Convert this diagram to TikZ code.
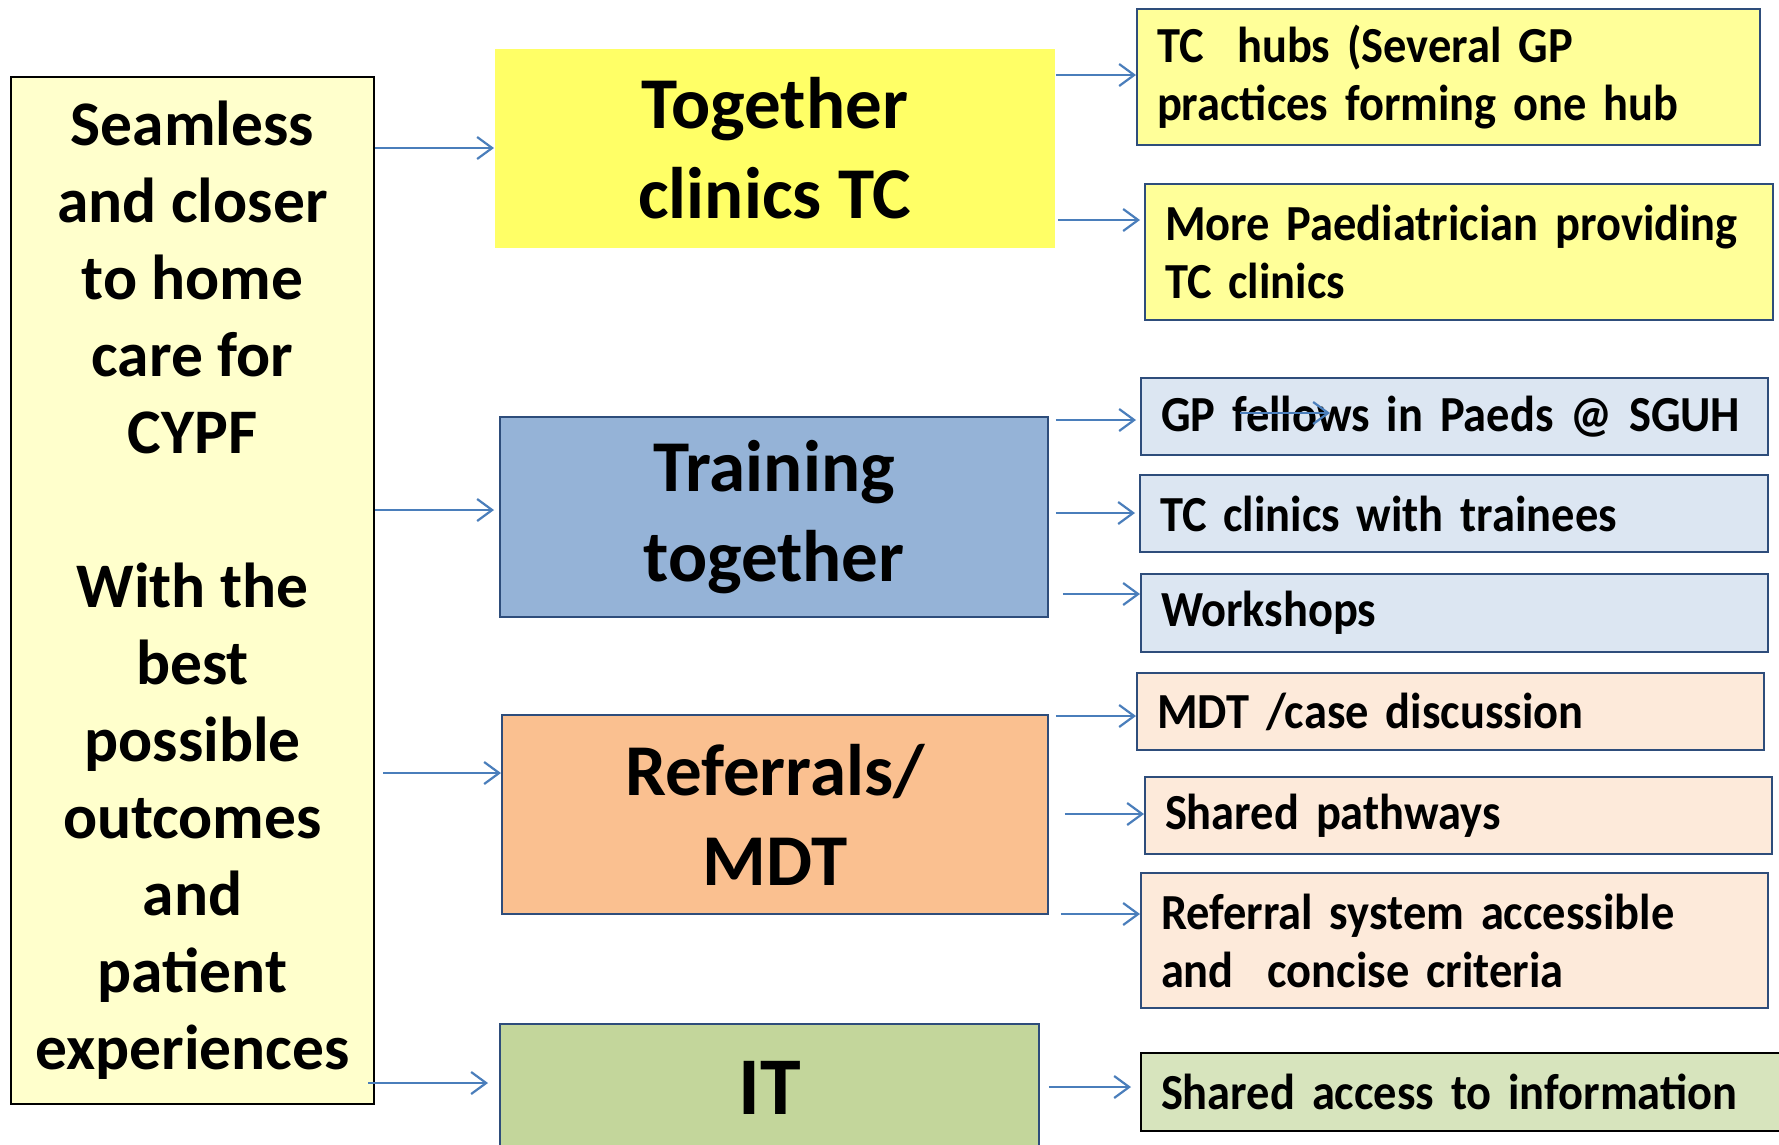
\documentclass[tikz,border=0pt]{standalone}
\usepackage{fontspec}
\setmainfont{Carlito}
\newfontfamily\rfont{Carlito}[FakeStretch=0.92, WordSpace=0.6]
\usetikzlibrary{arrows.meta}
\definecolor{arrowblue}{HTML}{4A7EBB}
\definecolor{navyline}{HTML}{2E4D7B}
\definecolor{leftfill}{HTML}{FFFFCC}
\definecolor{togfill}{HTML}{FFFF66}
\definecolor{tcright}{HTML}{FFFF99}
\definecolor{trnfill}{HTML}{95B3D7}
\definecolor{trnright}{HTML}{DCE6F2}
\definecolor{reffill}{HTML}{FAC090}
\definecolor{refright}{HTML}{FDEADA}
\definecolor{itfill}{HTML}{C3D69B}
\definecolor{itright}{HTML}{D7E4BD}
\tikzset{
  arr/.style={draw=arrowblue, line width=2.2pt, -{Straight Barb[length=15pt,width=22pt,line width=2.2pt]}},
  leftbox/.style={draw=black, line width=2pt, fill=leftfill, inner sep=0pt, align=center, anchor=north west,
    font=\bfseries\fontsize{63.5}{77}\selectfont},
  midbox/.style={draw=navyline, line width=1.8pt, inner sep=0pt, align=center, anchor=north west,
    font=\bfseries\fontsize{73}{90}\selectfont},
  rbox/.style={draw=navyline, line width=2pt, inner xsep=20pt, inner ysep=0pt, align=left, anchor=north west,
    font=\rfont\bfseries\fontsize{50.5}{58}\selectfont}
}
\begin{document}
\begin{tikzpicture}[x=1pt,y=-1pt]
\clip (0,0) rectangle (1779,1144);
\fill[white] (0,0) rectangle (1779,1144);

% left box
\node[leftbox, minimum width=363pt, minimum height=1027pt] (lft) at (10,76)
  {Seamless\\and closer\\to home\\care for\\CYPF\\[77pt]With the\\best\\possible\\outcomes\\and\\patient\\experiences};

% middle boxes
\node[midbox, draw=none, fill=togfill, minimum width=560pt, minimum height=199pt] (tog) at (494,48)
  {Together\\clinics TC};
\node[midbox, fill=trnfill, minimum width=548pt, minimum height=200pt] (trn) at (499,416)
  {Training\\together};
\node[midbox, fill=reffill, minimum width=546pt, minimum height=199pt] (ref) at (501,714)
  {Referrals/\\MDT};
\node[midbox, fill=itfill, minimum width=539pt, minimum height=127pt,
  font=\bfseries\fontsize{82}{90}\selectfont] (it) at (499,1023) {IT};

% right boxes
\node[rbox, fill=tcright, minimum width=623pt, minimum height=136pt, text width=583pt] (hubs) at (1136,8)
  {\mbox{TC~ hubs (Several GP}\\\mbox{practices forming one hub}};
\node[rbox, fill=tcright, minimum width=628pt, minimum height=136pt, text width=588pt] (paed) at (1144,183)
  {\mbox{More Paediatrician providing}\\\mbox{TC clinics}};
\node[rbox, fill=trnright, minimum width=627pt, minimum height=77pt, text width=587pt] (gp) at (1140,377)
  {\mbox{GP fellows in Paeds @ SGUH}};
\node[rbox, fill=trnright, minimum width=628pt, minimum height=77pt, text width=588pt] (tccl) at (1139,474)
  {\mbox{TC clinics with trainees}};
\node[rbox, fill=trnright, minimum width=627pt, minimum height=78pt, text width=587pt] (work) at (1140,573)
  {\mbox{Workshops}};
\node[rbox, fill=refright, minimum width=627pt, minimum height=77pt, text width=587pt] (mdt) at (1136,672)
  {\mbox{MDT /case discussion}};
\node[rbox, fill=refright, minimum width=627pt, minimum height=77pt, text width=587pt] (sp) at (1144,776)
  {\mbox{Shared pathways}};
\node[rbox, fill=refright, minimum width=627pt, minimum height=135pt, text width=587pt] (rs) at (1140,872)
  {\mbox{Referral system accessible}\\\mbox{and~ concise criteria}};
\node[rbox, draw=black, fill=itright, minimum width=650pt, minimum height=78pt, text width=610pt] (sa) at (1140,1052)
  {\mbox{Shared access to information}};

% arrows from left box
\draw[arr] (lft.east |- 0,148) -- (tog.west |- 0,148);
\draw[arr] (lft.east |- 0,510) -- ([xshift=-5pt]trn.west |- 0,510);
\draw[arr] ([xshift=8pt]lft.east |- 0,773) -- (ref.west |- 0,773);
\draw[arr] ([xshift=-7pt]lft.east |- 0,1083) -- ([xshift=-11pt]it.west |- 0,1083);

% arrows to right boxes
\draw[arr] (tog.east |- 0,75) -- (hubs.west |- 0,75);
\draw[arr] ([xshift=2pt]tog.east |- 0,220) -- ([xshift=-4pt]paed.west |- 0,220);
\draw[arr] ([xshift=7pt]trn.east |- 0,420) -- ([xshift=-4pt]gp.west |- 0,420);
\draw[arr] ([xshift=7pt]trn.east |- 0,513) -- ([xshift=-4pt]tccl.west |- 0,513);
\draw[arr] ([xshift=14pt]trn.east |- 0,594) -- (work.west |- 0,594);
\draw[arr] ([xshift=7pt]ref.east |- 0,716) -- (mdt.west |- 0,716);
\draw[arr] ([xshift=16pt]ref.east |- 0,814) -- (sp.west |- 0,814);
\draw[arr] ([xshift=12pt]ref.east |- 0,914) -- (rs.west |- 0,914);
\draw[arr] ([xshift=9pt]it.east |- 0,1087) -- ([xshift=-9pt]sa.west |- 0,1087);

% stray arrow over the GP fellows text
\coordinate (s1) at (1240,413);
\coordinate (s2) at (1330,413);
\draw[arr] (s1) -- (s2);
\end{tikzpicture}
\end{document}
